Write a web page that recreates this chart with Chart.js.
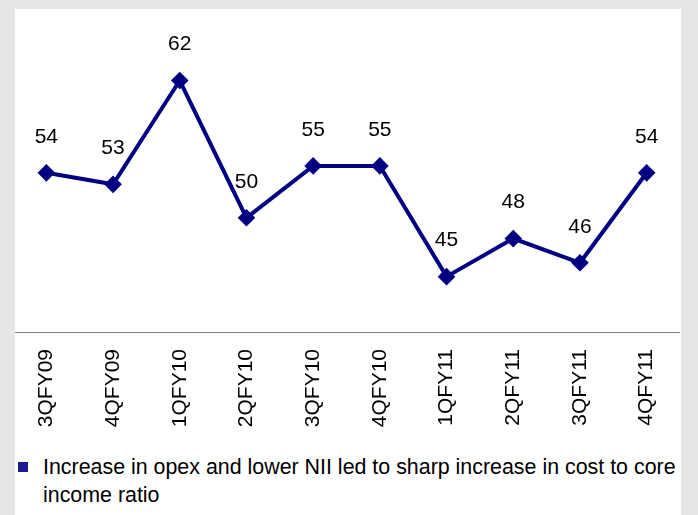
<!DOCTYPE html>
<html>
<head>
<meta charset="utf-8">
<script src="https://cdn.jsdelivr.net/npm/chart.js"></script>
<style>
	html, body { margin: 0; padding: 0; }
	body { width: 698px; height: 515px; background: #e6e6e6; position: relative; overflow: hidden; font-family: "Liberation Sans", Arial, sans-serif; }
	.panel { position: absolute; left: 15px; top: 9px; width: 666px; height: 506px; background: #fff; }
	.chart-box { position: absolute; left: 15px; top: 9px; width: 665px; height: 430px; overflow: hidden; }
	.chart-box canvas { position: absolute; left: -2px; top: 0; }
	.note { position: absolute; left: 18px; top: 453px; font-size: 21.4px; line-height: 28px; color: #000; }
	.note .bullet { position: absolute; left: 0; top: 9px; width: 10px; height: 10px; background: #1a1a8c; }
	.note .txt { margin-left: 25px; white-space: nowrap; }
</style>
</head>
<body>
<div class="panel"></div>
<div class="chart-box"><canvas id="lineChart" width="667" height="430"></canvas></div>
<div class="note"><span class="bullet"></span><div class="txt">Increase in opex and lower NII led to sharp increase in cost to core<br>income ratio</div></div>
<script>
	const quarters = ['3QFY09', '4QFY09', '1QFY10', '2QFY10', '3QFY10', '4QFY10', '1QFY11', '2QFY11', '3QFY11', '4QFY11'];
	const costToIncome = [54.0, 53.0, 62.0, 50.1, 54.6, 54.6, 45.0, 48.3, 46.2, 54.0];

	// draws the value above each point, no datalabels plugin available offline
	const pointLabels = {
		id: 'pointLabels',
		afterDatasetsDraw(chart) {
			const ctx = chart.ctx;
			const meta = chart.getDatasetMeta(0);
			ctx.save();
			ctx.font = '21px "Liberation Sans", Arial, sans-serif';
			ctx.fillStyle = '#000';
			ctx.textAlign = 'center';
			ctx.textBaseline = 'middle';
			meta.data.forEach(function(pt, i) {
				ctx.fillText(Math.round(costToIncome[i]), pt.x, pt.y - 36);
			});
			ctx.restore();
		}
	};

	new Chart(document.getElementById('lineChart').getContext('2d'), {
		type: 'line',
		data: {
			labels: quarters,
			datasets: [{
				data: costToIncome,
				borderColor: '#000080',
				backgroundColor: '#000080',
				borderWidth: 4,
				pointStyle: 'rectRot',
				pointRadius: 6,
				pointHoverRadius: 6,
				tension: 0,
				fill: false,
				clip: false
			}]
		},
		options: {
			responsive: false,
			animation: false,
			layout: { padding: 0, autoPadding: false },
			plugins: {
				legend: { display: false },
				tooltip: { enabled: false }
			},
			scales: {
				x: {
					offset: true,
					grid: { display: false, drawTicks: false },
					border: { display: true, color: '#808080', width: 1 },
					ticks: {
						color: '#000',
						font: { family: '"Liberation Sans", Arial, sans-serif', size: 21 },
						minRotation: 90,
						maxRotation: 90,
						padding: 17,
						autoSkip: false
					},
					afterFit: function(scale) {
						scale.height = 107;
						scale.paddingLeft = 0;
						scale.paddingRight = 0;
					}
				},
				y: {
					display: false,
					min: 40.2,
					max: 68.2
				}
			}
		},
		plugins: [pointLabels]
	});
</script>
</body>
</html>
